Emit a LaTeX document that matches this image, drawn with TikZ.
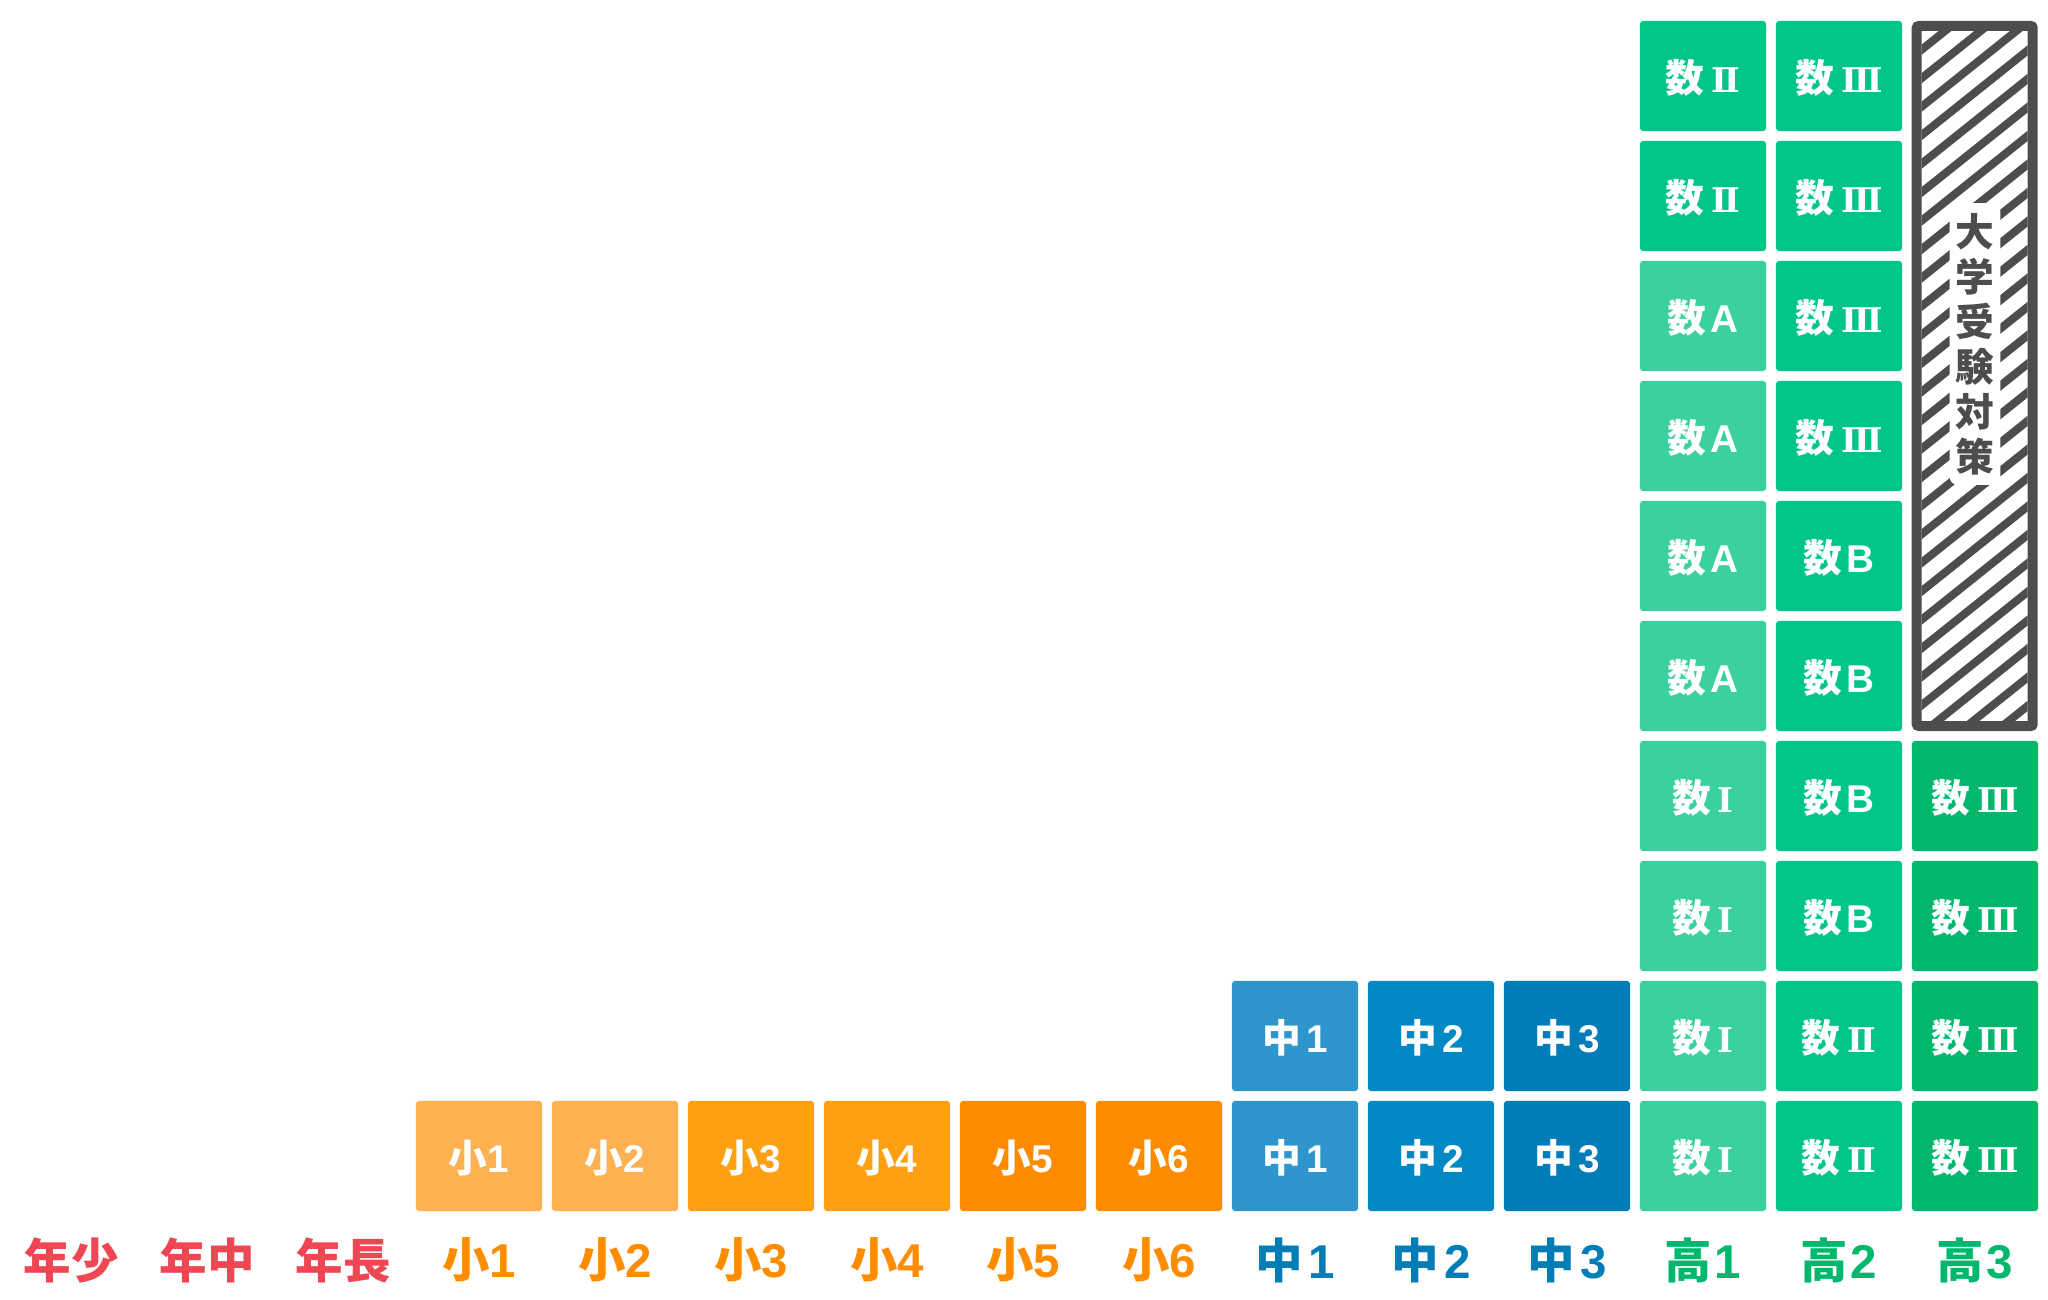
\documentclass[tikz,border=0pt]{standalone}
\usepackage{fontspec}
\newfontfamily\jp{Noto Sans CJK JP}
\newfontfamily\lat{Liberation Sans}
\newfontfamily\rom{DejaVu Serif}[Scale=0.88]
\usetikzlibrary{positioning}

\definecolor{nenRed}{HTML}{EE4753}
\definecolor{shoText}{HTML}{FF8C00}
\definecolor{shoLight}{HTML}{FFB050}
\definecolor{shoMid}{HTML}{FF9F12}
\definecolor{shoDeep}{HTML}{FF8C00}
\definecolor{chuText}{HTML}{007DB7}
\definecolor{chuA}{HTML}{2E95CD}
\definecolor{chuB}{HTML}{0088C5}
\definecolor{chuC}{HTML}{007DB7}
\definecolor{kouText}{HTML}{00B76C}
\definecolor{kouLight}{HTML}{3AD19D}
\definecolor{kouMid}{HTML}{00C589}
\definecolor{kouDeep}{HTML}{00B76C}
\definecolor{hatchGray}{HTML}{4D4D4D}

% subject labels
\newcommand{\suI}{数\hspace{0.18em}{\rom Ⅰ}}
\newcommand{\suII}{数\hspace{0.18em}{\rom Ⅱ}}
\newcommand{\suIII}{数\hspace{0.18em}{\rom Ⅲ}}
\newcommand{\suA}{数\hspace{0.12em}{\lat A}}
\newcommand{\suB}{数\hspace{0.12em}{\lat B}}

\begin{document}
\begin{tikzpicture}[
    x=0.01cm, y=-0.01cm,
    % Node Styles
    cell/.style={rectangle, rounded corners=0.03cm, minimum width=1.26cm, minimum height=1.10cm, inner sep=0pt, text height=1.0em, text depth=0.08em, text=white, font=\jp\bfseries\fontsize{11pt}{11pt}\selectfont},
    grade/.style={inner sep=0pt, font=\jp\bfseries\fontsize{13.5pt}{13.5pt}\selectfont},
    hatch/.style={draw=hatchGray, line width=0.08cm},
    frame/.style={draw=hatchGray, line width=0.1cm, rounded corners=0.02cm},
    backdrop/.style={fill=white, rounded corners=0.08cm, inner xsep=0.06cm, inner ysep=0.1cm, align=center, text=hatchGray, font=\jp\bfseries\fontsize{11pt}{12.8pt}\selectfont}
]
\useasboundingbox (0,0) rectangle (2048,1300);

% --- 1. Elementary (one row) ---
\foreach \n/\c in {1/shoLight,2/shoLight,3/shoMid,4/shoMid,5/shoDeep,6/shoDeep}
  \node[cell, fill=\c] (sho\n) at ({71+136*(\n+2)},1156) {小{\lat\n}};

% --- 2. Junior High (two rows) ---
\foreach \n/\c in {1/chuA,2/chuB,3/chuC}
  \foreach \r in {0,1}
    \node[cell, fill=\c] (chu\n-\r) at ({71+136*(\n+8)},{1156-120*\r}) {中\hspace{0.15em}{\lat\n}};

% --- 3. High School ---
% 1st year column
\foreach \t/\c [count=\r from 0] in {\suI/kouLight,\suI/kouLight,\suI/kouLight,\suI/kouLight,\suA/kouLight,\suA/kouLight,\suA/kouLight,\suA/kouLight,\suII/kouMid,\suII/kouMid}
  \node[cell, fill=\c] (kouA-\r) at (1703,{1156-120*\r}) {\t};

% 2nd year column
\foreach \t [count=\r from 0] in {\suII,\suII,\suB,\suB,\suB,\suB,\suIII,\suIII,\suIII,\suIII}
  \node[cell, fill=kouMid] (kouB-\r) at (1839,{1156-120*\r}) {\t};

% 3rd year column
\foreach \r in {0,...,3}
  \node[cell, fill=kouDeep] (kouC-\r) at (1975,{1156-120*\r}) {\suIII};

% --- 4. Exam prep block (hatched) ---
\begin{scope}
  \clip (1921.7,31) rectangle (2027.7,721);
  \foreach \k in {-3,...,27}
    \draw[hatch] (1900,{67+28.5*\k}) -- ++(150,-120);
\end{scope}
\draw[frame] (1916.7,26) rectangle (2032.7,726);
\node[backdrop] (juken) at (1975,344) {大\\学\\受\\験\\対\\策};

% --- 5. Grade labels ---
\foreach \t/\g/\d/\c [count=\k from 0] in {年少/0/ /nenRed,年中/0/ /nenRed,年長/0/ /nenRed,小/0/1/shoText,小/0/2/shoText,小/0/3/shoText,小/0/4/shoText,小/0/5/shoText,小/0/6/shoText,中/0.12/1/chuText,中/0.12/2/chuText,中/0.12/3/chuText,高/0.05/1/kouText,高/0.05/2/kouText,高/0.05/3/kouText}
  \node[grade, text=\c] (lab\k) at ({71+136*\k},1260) {\t\hspace{\g em}{\lat\d}\unskip};

\end{tikzpicture}
\end{document}
